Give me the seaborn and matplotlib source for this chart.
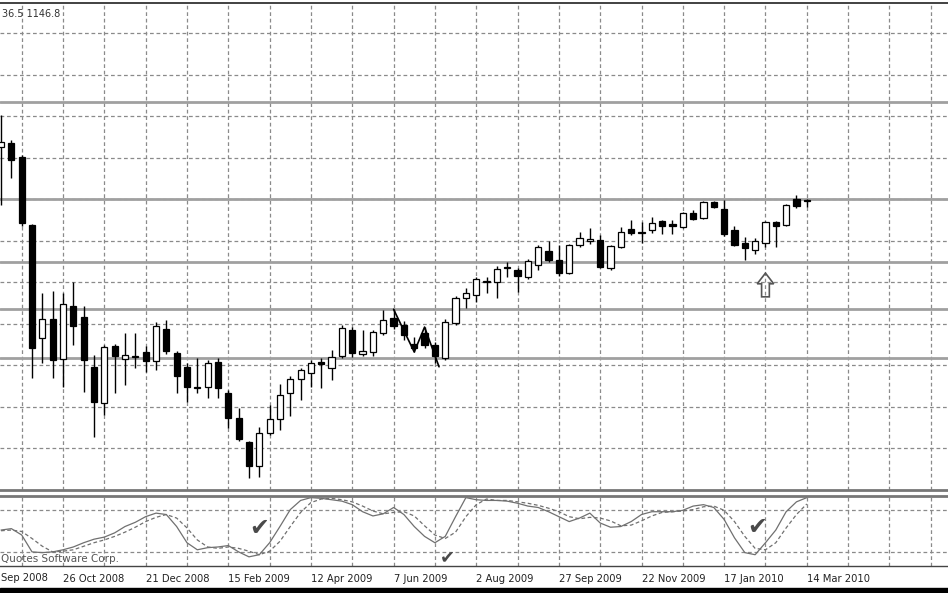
import pandas as pd
import seaborn as sns
import matplotlib.pyplot as plt
from matplotlib.patches import FancyArrow, Rectangle

# weekly candles, index 0 = week of 14 Sep 2008, 78 = week of 14 Mar 2010
opens = [1238, 1244, 1221, 1106, 916, 948, 880, 970, 951, 867,
         806, 902, 880, 883, 892, 877, 931, 890, 867, 831,
         833, 875, 823, 781, 740, 700, 755, 779, 823, 846,
         857, 875, 865, 885, 929, 889, 892, 924, 950, 938,
         905, 924, 904, 882, 941, 983, 988, 1010, 1010, 1035,
         1030, 1018, 1039, 1062, 1047, 1025, 1072, 1080, 1081, 1034,
         1069, 1099, 1093, 1098, 1113, 1108, 1103, 1126, 1118, 1145,
         1133, 1098, 1076, 1064, 1076, 1111, 1106, 1150, 1148.5]
highs = [1292, 1250, 1224, 1108, 991, 995, 991, 1010, 970, 887,
         904, 905, 924, 924, 902, 943, 946, 894, 873, 882,
         879, 882, 828, 798, 742, 766, 803, 838, 851, 865,
         879, 882, 895, 938, 934, 929, 929, 963, 964, 945,
         917, 934, 909, 948, 986, 1000, 1018, 1018, 1037, 1044,
         1034, 1049, 1072, 1079, 1072, 1074, 1094, 1101, 1089, 1072,
         1103, 1115, 1111, 1120, 1115, 1115, 1128, 1131, 1147, 1147,
         1148, 1104, 1086, 1084, 1113, 1113, 1142, 1157, 1150]
lows = [1140, 1185, 1104, 848, 873, 848, 833, 904, 824, 749,
        786, 823, 836, 865, 858, 862, 889, 823, 808, 823,
        814, 814, 764, 742, 680, 681, 752, 760, 784, 811,
        833, 831, 845, 882, 883, 885, 885, 921, 930, 912,
        892, 899, 873, 879, 938, 966, 976, 991, 983, 1018,
        993, 1015, 1030, 1044, 1020, 1024, 1069, 1074, 1034, 1030,
        1067, 1089, 1076, 1093, 1091, 1091, 1101, 1115, 1116, 1135,
        1088, 1071, 1047, 1057, 1069, 1069, 1104, 1135, 1136.5]
closes = [1246, 1216, 1110, 899, 948, 879, 973, 936, 879, 808,
          900, 885, 887, 886, 877, 936, 894, 851, 833, 832,
          873, 831, 781, 745, 700, 755, 779, 819, 846, 862,
          873, 872, 883, 932, 890, 894, 926, 946, 936, 921,
          899, 904, 885, 943, 983, 991, 1015, 1011, 1032, 1034,
          1020, 1045, 1069, 1047, 1025, 1072, 1084, 1082, 1035, 1071,
          1094, 1093, 1094, 1110, 1104, 1105, 1126, 1116, 1145, 1137,
          1091, 1072, 1067, 1079, 1111, 1104, 1140, 1138, 1146.8]

# stochastic oscillator (%K solid, %D dashed)
stoch_k = [51, 53, 44, 20, 19, 20, 23, 27, 33, 38,
           41, 47, 56, 62, 70, 75, 73, 56, 33, 23,
           26, 27, 29, 20, 13, 16, 33, 56, 80, 93,
           97, 96, 94, 92, 87, 77, 71, 74, 83, 73,
           56, 42, 33, 42, 70, 97, 94, 93, 93, 92,
           89, 85, 83, 77, 70, 63, 68, 75, 61, 55,
           56, 63, 73, 77, 77, 77, 79, 85, 87, 83,
           66, 40, 19, 16, 33, 51, 77, 91, 97]
stoch_d = [50, 51, 49, 39, 28, 20, 21, 23, 28, 33,
           37, 42, 48, 55, 63, 69, 73, 68, 54, 37,
           27, 25, 27, 25, 21, 16, 21, 35, 56, 76,
           90, 95, 96, 94, 91, 85, 78, 74, 76, 77,
           71, 57, 44, 39, 48, 70, 87, 95, 93, 93,
           91, 89, 86, 82, 77, 70, 67, 69, 68, 64,
           57, 58, 64, 71, 76, 77, 78, 80, 84, 85,
           79, 63, 42, 25, 23, 33, 54, 73, 88]

date_labels = ["26 Oct 2008", "21 Dec 2008", "15 Feb 2009", "12 Apr 2009",
               "7 Jun 2009", "2 Aug 2009", "27 Sep 2009", "22 Nov 2009",
               "17 Jan 2010", "14 Mar 2010"]
date_pos = [6, 14, 22, 30, 38, 46, 54, 62, 70, 78]
grid_weeks = list(range(2, 92, 4))
grid_prices = [730, 800, 870, 940, 1010, 1080, 1150, 1220, 1290, 1360, 1430]
level_lines = [1314, 1150, 1044, 964, 882]

sns.set_theme(style="white")
plt.rcParams['font.family'] = ['DejaVu Sans']

df = pd.DataFrame({"week": range(len(opens)), "open": opens, "high": highs,
                   "low": lows, "close": closes, "k": stoch_k, "d": stoch_d})

fig = plt.figure(figsize=(9.48, 5.93), dpi=100)
ax = fig.add_axes([0, 103 / 593, 1, 487 / 593])
osc = fig.add_axes([0, 27 / 593, 1, 70.5 / 593])

grid_kw = dict(color="#8a8a8a", lw=0.9, ls=(0, (3, 2.2)), zorder=0)
for a in (ax, osc):
    a.set_xlim(-0.1, 91.67)
    for w in grid_weeks:
        a.axvline(w, **grid_kw)

# main price panel
ax.set_ylim(659.2, 1480.6)
for p in grid_prices:
    ax.axhline(p, **grid_kw)
for p in level_lines:
    ax.axhline(p, color="#a0a0a0", lw=2, zorder=1)

up = df["close"] >= df["open"]
ax.vlines(df["week"], df["low"], df["high"], color="black", lw=1, zorder=2)
body_h = (df["close"] - df["open"]).abs().clip(lower=1.2)
body_b = df[["open", "close"]].min(axis=1)
ax.bar(df["week"], body_h, bottom=body_b, width=0.6,
       color=["white" if u else "black" for u in up],
       edgecolor="black", lw=0.9, zorder=3)

# hand drawn zigzag over the June 2009 candles
zz = [(38, highs[38]), (40, lows[40]), (41, highs[41]), (42.4, lows[42] - 6)]
ax.plot([z[0] for z in zz], [z[1] for z in zz], color="black", lw=1.2, zorder=4)

# hollow up arrow under the Feb 2010 candle
tip = lows[74] - 44
ax.add_patch(FancyArrow(74, tip - 40, 0, 40, width=0.75, head_width=1.6,
                        head_length=18, length_includes_head=True,
                        fill=False, ec="#555555", lw=1.2, zorder=4))

ax.set_xticks([])
ax.set_yticks([])
for s in ("left", "right"):
    ax.spines[s].set_visible(False)
ax.spines["top"].set_color("#333333")
ax.spines["top"].set_linewidth(1.3)
ax.spines["bottom"].set_color("#777777")
ax.spines["bottom"].set_linewidth(2)

# oscillator panel
osc.set_ylim(0, 100)
for lv in (20, 80):
    osc.axhline(lv, **grid_kw)
sns.lineplot(data=df, x="week", y="k", ax=osc, color="#707070", lw=0.9)
sns.lineplot(data=df, x="week", y="d", ax=osc, color="#707070", lw=0.9,
             ls=(0, (3, 2)))
osc.text(25, 54, "\u2714", ha="center", va="center", fontsize=17, color="#4a4a4a")
osc.text(43.2, 12, "\u2714", ha="center", va="center", fontsize=13,
         color="#4a4a4a", clip_on=False)
osc.text(73.2, 56, "\u2714", ha="center", va="center", fontsize=17, color="#4a4a4a")

osc.set_xlabel("")
osc.set_ylabel("")
osc.set_yticks([])
osc.set_xticks(date_pos)
osc.set_xticklabels(date_labels, ha="left", fontsize=7.2, color="#222222")
osc.tick_params(axis="x", length=3, pad=4, direction="inout", color="#444444")
for s in ("left", "right"):
    osc.spines[s].set_visible(False)
osc.spines["top"].set_color("#777777")
osc.spines["top"].set_linewidth(2)
osc.spines["bottom"].set_color("#444444")
osc.spines["bottom"].set_linewidth(1)

fig.text(2 / 948, 1 - 14 / 593, "36.5 1146.8", fontsize=7, color="#333333",
         va="center")
fig.text(1 / 948, 1 - 559 / 593, "Quotes Software Corp.", fontsize=7.5,
         color="#555555", va="center")
fig.text(1 / 948, 1 - 578 / 593, "Sep 2008", fontsize=7.2, color="#222222",
         va="center")
fig.patches.append(Rectangle((0, 0), 1, 5 / 593, transform=fig.transFigure,
                             color="black", zorder=10))

fig.savefig("out.png", dpi=100)
